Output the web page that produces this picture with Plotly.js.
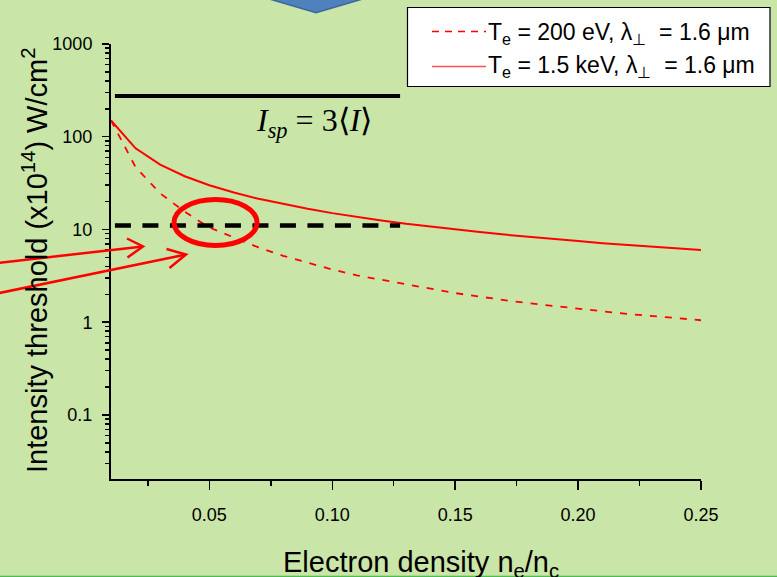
<!DOCTYPE html>
<html>
<head>
<meta charset="utf-8">
<script src="https://cdn.plot.ly/plotly-3.0.1.min.js"></script>
<style>
  html, body { margin: 0; padding: 0; background: #c9e5a7; }
  #chart { width: 777px; height: 577px; }
</style>
</head>
<body>
<div id="chart"></div>
<script>
// Normalised electron density n_e/n_c
const density = [0.01, 0.02, 0.03, 0.04, 0.05, 0.06, 0.07, 0.08, 0.09, 0.10,
                 0.11, 0.12, 0.13, 0.14, 0.15, 0.16, 0.17, 0.18, 0.19, 0.20,
                 0.21, 0.22, 0.23, 0.24, 0.25];

// Intensity threshold (x10^14 W/cm^2), Te = 200 eV
const threshold200eV = [150, 47, 24.5, 15.5, 10.5, 8.2, 6.4, 5.2, 4.35, 3.7,
                        3.2, 2.85, 2.55, 2.3, 2.06, 1.88, 1.73, 1.6, 1.49, 1.4,
                        1.31, 1.23, 1.17, 1.11, 1.05];

// Intensity threshold (x10^14 W/cm^2), Te = 1.5 keV
const threshold1500eV = [150, 75, 50, 37.5, 30, 25, 21.4, 18.8, 16.7, 15,
                         13.6, 12.5, 11.5, 10.7, 10, 9.4, 8.8, 8.3, 7.9, 7.5,
                         7.1, 6.8, 6.5, 6.25, 6.0];

// Speckle levels I_sp = 3<I>
const speckleX = [0.0116, 0.1276];
const speckleHigh = [275, 275];
const speckleLow = [11, 11];

// Axis ticks
const xTickVals = [0.05, 0.10, 0.15, 0.20, 0.25];
const xTickText = ['0.05', '0.10', '0.15', '0.20', '0.25'];
const xMinorVals = [0.025, 0.075, 0.125, 0.175, 0.225];
const yTickVals = [0.1, 1, 10, 100, 1000];
const yTickText = ['0.1', '1', '10', '100', '1000'];

const seriesNames = [
  'T<sub>e</sub> = 200 eV, λ<sub>⊥</sub>  = 1.6 μm',
  'T<sub>e</sub> = 1.5 keV, λ<sub>⊥</sub>  = 1.6 μm'
];

const yMinorVals = [];
for (let e = -2; e <= 2; e++) {
  for (let d = 2; d <= 9; d++) {
    const v = d * Math.pow(10, e);
    if (Math.log10(v) > -1.691) yMinorVals.push(v);
  }
}

// Page-pixel helpers for decorations (plot area spans 111..701 x 44..479)
const L = 111, R = 701, T = 44, B = 479;
const px = x => (x - L) / (R - L);
const py = y => (B - y) / (B - T);

const SANS = 'Liberation Sans, Arial, sans-serif';
const SERIF = 'Liberation Serif, Times New Roman, serif';
const RED = '#ff0000';

const traces = [
  {
    x: density, y: threshold200eV, name: seriesNames[0], mode: 'lines',
    line: { color: RED, width: 1.8, dash: '7px,8px' }
  },
  {
    x: density, y: threshold1500eV, name: seriesNames[1], mode: 'lines',
    line: { color: RED, width: 2 }
  },
  {
    x: speckleX, y: speckleHigh, mode: 'lines', name: 'I_sp high',
    line: { color: '#000', width: 4 }
  },
  {
    x: speckleX, y: speckleLow, mode: 'lines', name: 'I_sp low',
    line: { color: '#000', width: 4.5, dash: '16px,11.5px' }
  }
];

const shapes = [
  // blue marker at the top edge
  {
    type: 'path', xref: 'paper', yref: 'paper',
    path: `M ${px(266)},${py(-2)} L ${px(316)},${py(12.7)} L ${px(366)},${py(-2)} Z`,
    fillcolor: '#4f81bd', line: { color: '#3a679c', width: 1.5 }, layer: 'above'
  },
  // highlight ellipse around the crossing
  {
    type: 'circle', xref: 'paper', yref: 'paper',
    x0: px(174), x1: px(257), y0: py(245.5), y1: py(199.5),
    line: { color: RED, width: 5 }, layer: 'above'
  },
  // pointer arrows
  { type: 'line', xref: 'paper', yref: 'paper', x0: px(-3), y0: py(263), x1: px(143), y1: py(246.5), line: { color: RED, width: 2.5 } },
  { type: 'path', xref: 'paper', yref: 'paper', path: `M ${px(127)},${py(238.5)} L ${px(143)},${py(246.5)} L ${px(127.5)},${py(257.5)}`, line: { color: RED, width: 2.5 } },
  { type: 'line', xref: 'paper', yref: 'paper', x0: px(-3), y0: py(293.5), x1: px(186), y1: py(254.5), line: { color: RED, width: 2.5 } },
  { type: 'path', xref: 'paper', yref: 'paper', path: `M ${px(166.5)},${py(249)} L ${px(186)},${py(254.5)} L ${px(169.5)},${py(268)}`, line: { color: RED, width: 2.5 } },
  // legend box
  {
    type: 'rect', xref: 'paper', yref: 'paper',
    x0: px(407.5), x1: px(770), y0: py(86.5), y1: py(7.5),
    fillcolor: '#ffffff', line: { color: '#000', width: 1.2 }, layer: 'above'
  },
  // legend samples
  { type: 'line', xref: 'paper', yref: 'paper', x0: px(432), x1: px(486), y0: py(31.5), y1: py(31.5), line: { color: RED, width: 1.6, dash: '7px,6px' }, layer: 'above' },
  { type: 'line', xref: 'paper', yref: 'paper', x0: px(432), x1: px(486), y0: py(66.5), y1: py(66.5), line: { color: '#ff5050', width: 1.6 }, layer: 'above' },
  // bottom edge rule
  {
    type: 'line', xref: 'paper', yref: 'paper',
    x0: px(-5), x1: px(790), y0: py(576.5), y1: py(576.5),
    line: { color: '#4dbb4d', width: 1.5 }, layer: 'above'
  }
];

const annotations = [
  {
    xref: 'paper', yref: 'paper', x: px(35), y: py(261),
    text: 'Intensity threshold (x10<sup>14</sup>) W/cm<sup>2</sup>',
    textangle: -90, showarrow: false, xanchor: 'center', yanchor: 'middle',
    font: { family: SANS, size: 29, color: '#000' }
  },
  {
    xref: 'paper', yref: 'paper', x: px(421), y: py(564),
    text: 'Electron density n<sub>e</sub>/n<sub>c</sub>',
    showarrow: false, xanchor: 'center', yanchor: 'middle',
    font: { family: SANS, size: 29, color: '#000' }
  },
  {
    xref: 'paper', yref: 'paper', x: px(314), y: py(123),
    text: '<i>I</i><sub><i>sp</i></sub> = 3⟨<i>I</i>⟩',
    showarrow: false, xanchor: 'center', yanchor: 'middle',
    font: { family: SERIF, size: 32, color: '#000' }
  },
  {
    xref: 'paper', yref: 'paper', x: px(486), y: py(33),
    text: seriesNames[0], showarrow: false, xanchor: 'left', yanchor: 'middle',
    font: { family: SANS, size: 23, color: '#000' }
  },
  {
    xref: 'paper', yref: 'paper', x: px(486), y: py(67),
    text: seriesNames[1], showarrow: false, xanchor: 'left', yanchor: 'middle',
    font: { family: SANS, size: 23, color: '#000' }
  }
];

const layout = {
  width: 777, height: 577,
  margin: { l: L, r: 777 - R, t: T, b: 577 - B, pad: 0 },
  paper_bgcolor: '#c9e5a7', plot_bgcolor: '#c9e5a7',
  showlegend: false,
  font: { family: SANS, size: 18, color: '#000' },
  xaxis: {
    range: [0.01, 0.25], tickmode: 'array', tickvals: xTickVals, ticktext: xTickText,
    ticks: 'outside', ticklen: 9, tickwidth: 1.5, tickcolor: '#000',
    showline: true, linewidth: 2, linecolor: '#000',
    showgrid: false, zeroline: false, ticklabelstandoff: 9,
    tickfont: { family: SANS, size: 18, color: '#000' },
    minor: { tickmode: 'array', tickvals: xMinorVals, ticks: 'outside', ticklen: 5, tickwidth: 1.5, tickcolor: '#000', showgrid: false }
  },
  yaxis: {
    type: 'log', range: [-1.691, 3], tickmode: 'array', tickvals: yTickVals, ticktext: yTickText,
    ticks: 'outside', ticklen: 7, tickwidth: 1.5, tickcolor: '#000',
    showline: true, linewidth: 2, linecolor: '#000',
    showgrid: false, zeroline: false, ticklabelstandoff: 6,
    tickfont: { family: SANS, size: 18, color: '#000' },
    minor: { tickmode: 'array', tickvals: yMinorVals, ticks: 'outside', ticklen: 4, tickwidth: 1.5, tickcolor: '#000', showgrid: false }
  },
  shapes: shapes,
  annotations: annotations
};

Plotly.newPlot('chart', traces, layout, { staticPlot: true, displayModeBar: false });
</script>
</body>
</html>
